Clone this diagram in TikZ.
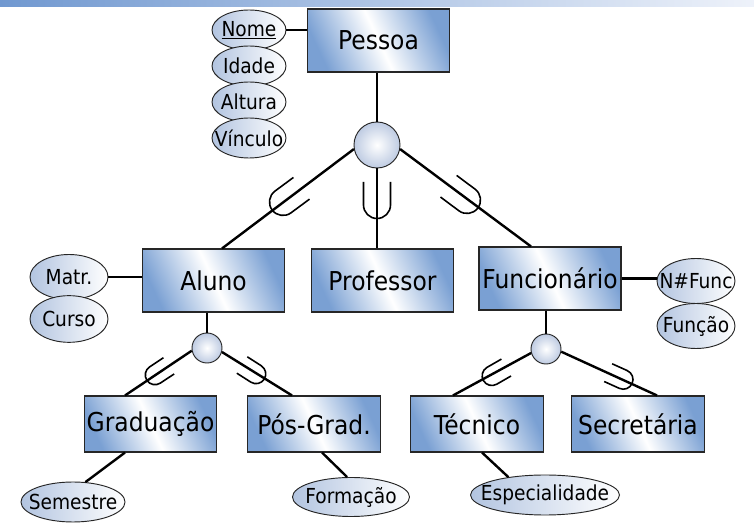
\documentclass[tikz,border=0pt]{standalone}
\usepackage{fontspec}
\setmainfont{DejaVu Sans}[FakeStretch=0.9]
\usetikzlibrary{calc,shapes.geometric}
\definecolor{bblue}{RGB}{122,160,211}
\definecolor{eblue}{RGB}{178,196,224}
\definecolor{cblue}{RGB}{190,203,226}
\definecolor{barL}{RGB}{112,152,208}
\definecolor{barR}{RGB}{238,242,250}
\newcommand{\ztext}[1]{\makebox[0pt]{#1}}
\tikzset{
  subsetU/.pic={\draw[line width=1.2pt] (-13.5,-18) -- (-13.5,5) arc[start angle=180,end angle=0,radius=13.5] -- (13.5,-18);}
}
\begin{document}
\begin{tikzpicture}[x=0.75pt,y=-0.75pt,
  ent/.style={rectangle, draw=black!85, line width=0.8pt, left color=bblue, right color=bblue, middle color=white, shading angle=115, minimum width=106.5pt, minimum height=47.25pt, inner sep=0pt, font=\fontsize{19.5}{22}\selectfont},
  sub/.style={ent, minimum width=99.5pt, minimum height=42pt},
  attr/.style={ellipse, draw=black!85, line width=0.7pt, left color=eblue, right color=white, inner sep=0pt, font=\fontsize{15.5}{18}\selectfont},
  circ/.style={circle, draw=black!85, line width=0.7pt, inner color=white, outer color=cblue, inner sep=0pt},
  conn/.style={line width=1.8pt, black}]
\fill[white] (0,0) rectangle (754,530);
\useasboundingbox (0,0) rectangle (754,530);
\shade[left color=barL, right color=barR] (0,0) rectangle (754,7);

% entities
\node[ent] (pessoa) at (378.5,40.5) {Pessoa};
\node[ent] (aluno) at (213.5,280.5) {Aluno};
\node[ent] (prof) at (382.5,280.5) {Professor};
\node[ent] (func) at (550,278.5) {Funcionário};
\node[sub] (grad) at (150.5,424) {Graduação};
\node[sub] (pos) at (314,424) {Pós-Grad.};
\node[sub] (tec) at (477,424) {Técnico};
\node[sub] (sec) at (638,424) {Secretária};

% attributes
\node[attr, minimum width=55.5pt, minimum height=30pt] (nome) at (249,30) {\ztext{\underline{Nome}}};
\node[attr, minimum width=55.5pt, minimum height=30pt] (idade) at (249,66) {\ztext{Idade}};
\node[attr, minimum width=55.5pt, minimum height=30pt] (altura) at (249,102) {\ztext{Altura}};
\node[attr, minimum width=55.5pt, minimum height=30pt] (vinculo) at (249,138) {\ztext{Vínculo}};
\node[attr, minimum width=58.5pt, minimum height=33.75pt] (matr) at (69,277) {\ztext{Matr.}};
\node[attr, minimum width=58.5pt, minimum height=35pt] (curso) at (69,319) {\ztext{Curso}};
\node[attr, minimum width=58.5pt, minimum height=33.75pt] (nfunc) at (696,281) {\ztext{N\#Func}};
\node[attr, minimum width=58.5pt, minimum height=33.75pt] (funcao) at (696,326) {\ztext{Função}};
\node[attr, minimum width=78pt, minimum height=30pt] (sem) at (73,502) {\ztext{Semestre}};
\node[attr, minimum width=87.75pt, minimum height=29.25pt] (form) at (351,497) {\ztext{Formação}};
\node[attr, minimum width=111.75pt, minimum height=30pt] (esp) at (545,495) {\ztext{Especialidade}};

% specialization circles
\node[circ, minimum size=34.5pt] (c1) at (377,145) {};
\node[circ, minimum size=22.5pt] (c2) at (207,348) {};
\node[circ, minimum size=22.5pt] (c3) at (546,349) {};

% connectors
\draw[conn] (nome.east) -- (nome.east -| pessoa.west);
\draw[conn] (c1 |- pessoa.south) -- (c1);
\draw[conn] (c1.190) -- ($(aluno.north)+(8.5,0)$);
\draw[conn] (c1) -- (c1 |- prof.north);
\draw[conn] (c1.350) -- ($(func.north)+(-19,0)$);
\draw[conn] (matr.east) -- (matr.east -| aluno.west);
\draw[conn] (func.east) -- (func.east -| nfunc.west);
\draw[conn] (c2 |- aluno.south) -- (c2);
\draw[conn] (c2.190) -- ($(grad.north)+(-25.5,0)$);
\draw[conn] (c2.345) -- ($(pos.north)+(-22,0)$);
\draw[conn] ($(grad.south)+(-25.5,0)$) -- (sem.58);
\draw[conn] ($(pos.south)+(8,0)$) -- (form.101);
\draw[conn] (c3 |- func.south) -- (c3);
\draw[conn] (c3.195) -- ($(tec.north)+(-24,0)$);
\draw[conn] (c3.350) -- ($(sec.north)+(19,0)$);
\draw[conn] ($(tec.south)+(5,0)$) -- (esp.154);

% subset marks
\pic[rotate=-53.5] at (287,199) {subsetU};
\pic at (377,200) {subsetU};
\pic[rotate=53.3] at (463,197) {subsetU};
\pic[rotate=-56.5, scale=0.72] at (158,373) {subsetU};
\pic[rotate=57.4, scale=0.72] at (253,372) {subsetU};
\pic[rotate=-60.1, scale=0.72] at (495,374) {subsetU};
\pic[rotate=65.7, scale=0.72] at (620,378) {subsetU};
\end{tikzpicture}
\end{document}
